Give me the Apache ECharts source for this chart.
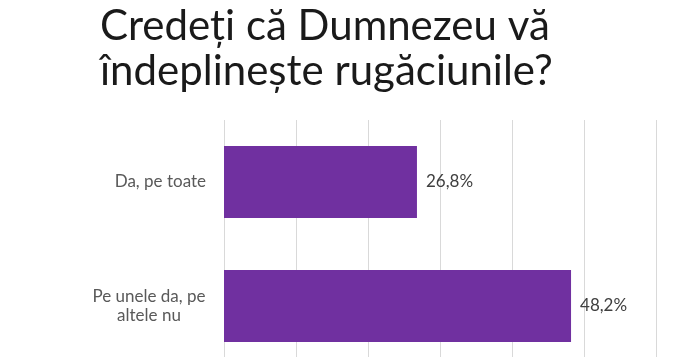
<!DOCTYPE html>
<html>
<head>
<meta charset="utf-8">
<script src="https://cdn.jsdelivr.net/npm/echarts@6/dist/echarts.min.js"></script>
<style>html,body{margin:0;padding:0;background:#fff}#c{width:682px;height:357px}</style>
</head>
<body>
<div id="c"></div>
<script>
const titleText = 'Credeți că Dumnezeu vă\nîndeplinește rugăciunile?';
const categories = ['Da, pe toate', 'Pe unele da, pe\naltele nu'];
const values = [26.8, 48.2];
const axisMin = 0, axisMax = 60, axisStep = 10;

const chart = echarts.init(document.getElementById('c'));
chart.setOption({
  animation: false,
  title: {
    text: titleText,
    left: 95, top: -1,
    textStyle: { fontFamily: 'Lato', fontSize: 42, fontWeight: 'normal', color: '#1a1a1a', lineHeight: 45 }
  },
  grid: { left: 224, top: 120, width: 432, height: 248, outerBoundsMode: 'none', containLabel: false },
  xAxis: {
    type: 'value', min: axisMin, max: axisMax, interval: axisStep,
    axisLabel: { show: false }, axisLine: { show: false }, axisTick: { show: false },
    splitLine: { lineStyle: { color: '#d9d9d9', width: 1 } }
  },
  yAxis: {
    type: 'category', data: categories, inverse: true,
    axisLine: { show: false }, axisTick: { show: false },
    axisLabel: {
      margin: 18, color: '#595959', fontFamily: 'Lato', fontSize: 17, lineHeight: 19,
      formatter: function (v) {
        const parts = v.split('\n');
        if (parts.length === 1) return v;
        return parts.map(function (s) { return '{c|' + s + '}'; }).join('\n');
      },
      rich: { c: { fontFamily: 'Lato', fontSize: 17, color: '#595959', width: 114, align: 'center', lineHeight: 19 } }
    }
  },
  series: [{
    type: 'bar', data: values, barWidth: 72,
    itemStyle: { color: '#7030A0' },
    label: {
      show: true, position: 'right', distance: 9,
      fontFamily: 'Lato', fontSize: 17, color: '#404040',
      formatter: function (p) { return p.value.toFixed(1).replace('.', ',') + '%'; }
    }
  }]
});
</script>
</body>
</html>
